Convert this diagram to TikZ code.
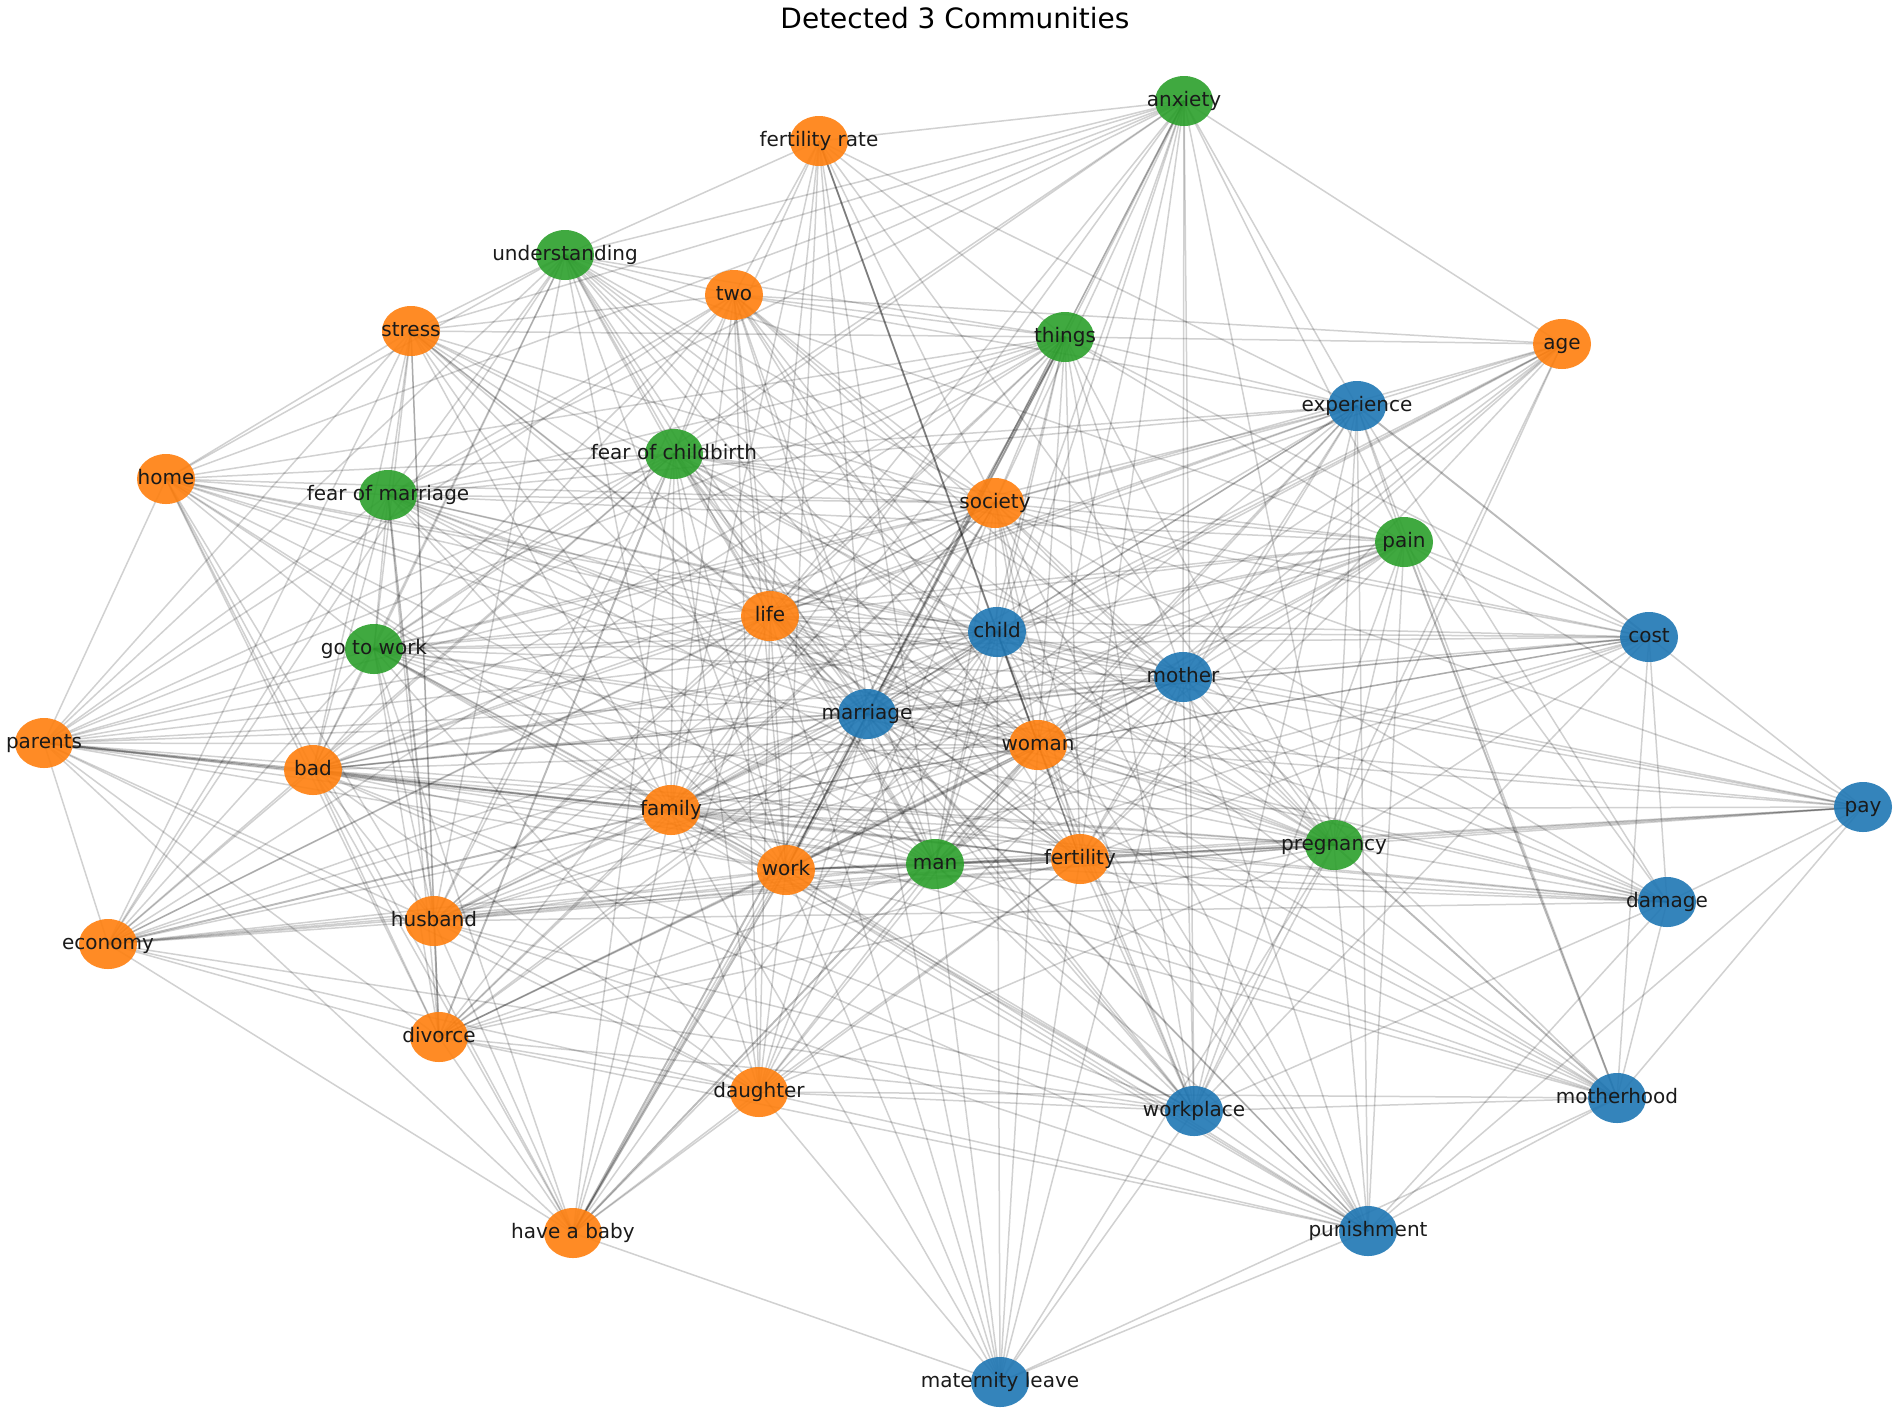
\documentclass[tikz,border=0pt]{standalone}
\usepackage{fontspec}
\setmainfont{DejaVu Sans}
\usetikzlibrary{shapes.geometric}
\pgfdeclarelayer{background}
\pgfsetlayers{background,main}
\definecolor{tabblue}{HTML}{1F77B4}
\definecolor{taborange}{HTML}{FF7F0E}
\definecolor{tabgreen}{HTML}{2CA02C}
\definecolor{lbl}{HTML}{1A1A1A}
\begin{document}
\begin{tikzpicture}[x=1pt,y=-1pt,
  blob/.style={ellipse, minimum width=58pt, minimum height=50pt, inner sep=0pt, fill opacity=0.9, draw=none},
  ob/.style={blob, fill=taborange},
  bb/.style={blob, fill=tabblue},
  gb/.style={blob, fill=tabgreen},
  lab/.style={font=\fontsize{20}{24}\selectfont, text=lbl, text opacity=1, fill opacity=1, inner sep=0pt, text height=14pt, text depth=4pt},
  edge/.style={draw=black, draw opacity=0.18, line width=1.5pt},
  heavy/.style={draw=black, draw opacity=0.27, line width=1.9pt}]
\useasboundingbox (0,0) rectangle (1902,1417);
\node[font=\fontsize{28}{34}\selectfont, text=black, inner sep=0pt] (title) at (955,18) {Detected 3 Communities};
% nodes
\node[gb, label={[lab]center:anxiety}] (anx) at (1184,101) {};
\node[ob, label={[lab]center:fertility rate}] (frate) at (819,141) {};
\node[gb, label={[lab]center:understanding}] (und) at (565,255) {};
\node[ob, label={[lab]center:two}] (two) at (734,295) {};
\node[ob, label={[lab]center:stress}] (str) at (411,331) {};
\node[gb, label={[lab]center:things}] (thi) at (1065,337) {};
\node[ob, label={[lab]center:age}] (age) at (1562,344) {};
\node[bb, label={[lab]center:experience}] (exp) at (1357,406) {};
\node[gb, label={[lab]center:fear of childbirth}] (foc) at (674,454) {};
\node[ob, label={[lab]center:home}] (home) at (166,479) {};
\node[gb, label={[lab]center:fear of marriage}] (fom) at (388,495) {};
\node[ob, label={[lab]center:society}] (soc) at (995,503) {};
\node[gb, label={[lab]center:pain}] (pain) at (1404,542) {};
\node[ob, label={[lab]center:life}] (life) at (770,616) {};
\node[bb, label={[lab]center:child}] (child) at (997,632) {};
\node[bb, label={[lab]center:cost}] (cost) at (1649,637) {};
\node[gb, label={[lab]center:go to work}] (gtw) at (374,649) {};
\node[bb, label={[lab]center:mother}] (moth) at (1183,677) {};
\node[bb, label={[lab]center:marriage}] (marr) at (867,714) {};
\node[ob, label={[lab]center:parents}] (par) at (44,743) {};
\node[ob, label={[lab]center:woman}] (wom) at (1038,745) {};
\node[ob, label={[lab]center:bad}] (bad) at (313,770) {};
\node[bb, label={[lab]center:pay}] (pay) at (1863,807) {};
\node[ob, label={[lab]center:family}] (fam) at (671,810) {};
\node[gb, label={[lab]center:pregnancy}] (preg) at (1334,845) {};
\node[ob, label={[lab]center:fertility}] (fert) at (1080,859) {};
\node[gb, label={[lab]center:man}] (man) at (935,864) {};
\node[ob, label={[lab]center:work}] (work) at (786,870) {};
\node[bb, label={[lab]center:damage}] (dam) at (1667,902) {};
\node[ob, label={[lab]center:husband}] (hus) at (434,921) {};
\node[ob, label={[lab]center:economy}] (eco) at (108,944) {};
\node[ob, label={[lab]center:divorce}] (div) at (439,1037) {};
\node[ob, label={[lab]center:daughter}] (dau) at (759,1092) {};
\node[bb, label={[lab]center:workplace}] (wp) at (1194,1111) {};
\node[bb, label={[lab]center:motherhood}] (mh) at (1617,1098) {};
\node[ob, label={[lab]center:have a baby}] (hab) at (573,1233) {};
\node[bb, label={[lab]center:punishment}] (pun) at (1368,1231) {};
\node[bb, label={[lab]center:maternity leave}] (ml) at (1000,1382) {};
% edges
\begin{pgfonlayer}{background}
\fill[white] (0,0) rectangle (1902,1417);
\foreach \a/\nb in {
 life/{child,marr,wom,fam,work,man,fert,moth,soc},
 child/{marr,wom,fam,work,man,fert,moth,soc},
 marr/{fam,work,man,fert,moth,soc},
 wom/{fam,work,man,fert,moth,soc},
 fam/{work,man,fert,moth,soc},
 work/{fert,moth,soc},
 man/{moth,soc},
 fert/{moth,soc},
 moth/{soc},
 anx/{life,child,marr,wom,fam,work,man,fert,moth,soc,frate,und,two,str,home,foc,fom,gtw,thi,preg,exp,age,wp,pain},
 frate/{life,child,marr,fam,work,man,fert,soc,und,two,thi,foc,exp,preg},
 und/{life,child,marr,wom,fam,work,man,fert,soc,moth,two,thi,str,home,foc,fom,gtw,bad,par,hus,eco,preg,pain},
 two/{life,child,marr,wom,fam,work,man,fert,moth,soc,thi,age,str,foc,fom,gtw,bad,hus,par,dau,preg,exp},
 str/{life,child,marr,wom,fam,work,man,fert,soc,thi,home,foc,fom,gtw,par,eco,bad,hus,div},
 thi/{life,child,marr,wom,fam,man,fert,moth,soc,age,exp,foc,fom,gtw,home,par,bad,pain,preg,cost,hus,wp,eco},
 age/{soc,life,child,marr,moth,wom,man,fert,fam,work,exp,preg,wp},
 exp/{soc,life,child,marr,moth,wom,fam,work,man,fert,foc,pain,preg,dam,mh,wp,pun,gtw,fom,bad},
 foc/{life,child,marr,wom,fam,work,man,fert,moth,soc,home,fom,gtw,par,bad,hus,eco,hab,dau,preg,pain,cost,wp},
 home/{soc,life,child,marr,wom,fam,work,man,moth,fom,gtw,bad,hus,par,div,hab},
 fom/{life,child,marr,wom,fam,work,man,fert,moth,soc,gtw,bad,par,eco,div,preg,pain},
 pain/{life,child,marr,wom,fam,work,man,fert,moth,soc,preg,cost,pay,dam,wp,pun,gtw,bad,hus},
 cost/{child,moth,marr,wom,life,soc,fert,man,work,fam,pay,dam,mh,gtw,bad,preg,wp},
 gtw/{life,child,marr,wom,fam,work,man,fert,moth,soc,par,bad,hus,eco,div,dau,hab,preg,wp,pun},
 par/{life,child,marr,wom,work,man,fert,moth,soc,hus,eco,div,hab,dau,preg},
 bad/{life,child,marr,wom,fam,work,man,fert,moth,soc,hus,eco,div,dau,hab,preg,wp,pun,dam},
 pay/{soc,child,moth,marr,wom,life,fam,man,fert,work,preg,dam,mh,pun},
 preg/{life,child,marr,wom,fam,work,man,fert,moth,soc,dam,hus,eco,div,dau,wp,pun,ml},
 dam/{soc,life,child,marr,wom,fam,work,man,fert,moth,hus,wp,mh,pun},
 hus/{life,child,marr,wom,fam,work,man,fert,moth,soc,eco,dau,hab,wp,pun},
 eco/{life,child,marr,wom,work,man,fert,soc,div,dau,hab,wp},
 div/{life,child,marr,wom,fam,work,man,fert,moth,soc,dau,hab,wp,pun},
 dau/{life,child,marr,wom,fam,work,man,fert,moth,soc,wp,mh,pun,ml,hab},
 wp/{life,child,marr,wom,fam,work,man,fert,moth,soc,mh,pun,ml},
 mh/{moth,wom,child,fert,man,marr,work,fam,life,pun,ml},
 hab/{soc,fam,life,marr,man,fert,child,ml},
 pun/{life,child,marr,wom,fam,work,man,fert,moth,soc,ml},
 ml/{fam,work,life,marr,man,child,wom,fert,moth}}
 {\foreach \b in \nb {\draw[edge] (\a.center) -- (\b.center);}}
\foreach \a/\b in {frate/wom, thi/hab, thi/work, hab/wom, hab/work, par/bad, par/fam, foc/div, fom/hus, hus/div, pain/mh, preg/mh, exp/cost, work/man, marr/wom, man/fert, eco/fam}
 {\draw[heavy] (\a.center) -- (\b.center);}
\end{pgfonlayer}
\end{tikzpicture}
\end{document}
